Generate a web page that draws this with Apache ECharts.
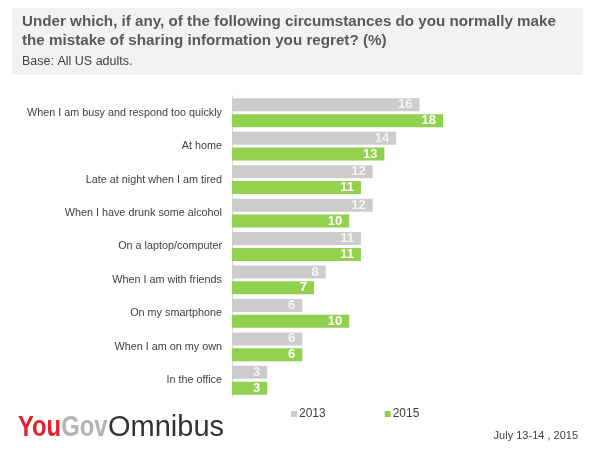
<!DOCTYPE html>
<html>
<head>
<meta charset="utf-8">
<script src="https://cdn.jsdelivr.net/npm/echarts@6/dist/echarts.min.js"></script>
<style>
html, body { margin: 0; padding: 0; background: #fff; }
#main { width: 599px; height: 459px; }
</style>
</head>
<body>
<div id="main"></div>
<script>
var categories = [
  'When I am busy and respond too quickly',
  'At home',
  'Late at night when I am tired',
  'When I have drunk some alcohol',
  'On a laptop/computer',
  'When I am with friends',
  'On my smartphone',
  'When I am on my own',
  'In the office'
];
var values2013 = [16, 14, 12, 12, 11, 8, 6, 6, 3];
var values2015 = [18, 13, 11, 10, 11, 7, 10, 6, 3];
var seriesNames = ['2013', '2015'];

var font = 'Liberation Sans, Arial, sans-serif';

var chart = echarts.init(document.getElementById('main'));

var option = {
  animation: false,
  textStyle: { fontFamily: font },
  title: {
    text: 'Under which, if any, of the following circumstances do you normally make\nthe mistake of sharing information you regret? (%)',
    subtext: 'Base: All US adults.',
    left: 22,
    top: 12,
    padding: 0,
    itemGap: 5,
    textStyle: { fontSize: 15.2, fontWeight: 'bold', color: '#595959', lineHeight: 19, fontFamily: font },
    subtextStyle: { fontSize: 12.5, color: '#404040', fontFamily: font }
  },
  legend: {
    data: seriesNames,
    left: 286,
    top: 403,
    itemWidth: 6,
    itemHeight: 6,
    itemGap: 59,
    icon: 'rect',
    textStyle: { fontSize: 12, color: '#404040', padding: [0, 0, 0, -3] }
  },
  grid: { left: 232, top: 96, width: 211, height: 301, containLabel: false },
  xAxis: {
    type: 'value',
    min: 0,
    max: 18,
    show: false
  },
  yAxis: {
    type: 'category',
    data: categories,
    inverse: true,
    axisLine: { show: true, lineStyle: { color: '#d9d9d9', width: 1 } },
    axisTick: { show: false },
    axisLabel: { color: '#404040', fontSize: 10.8, margin: 10 }
  },
  series: [
    {
      name: seriesNames[0],
      type: 'bar',
      data: values2013,
      barWidth: 13,
      barGap: '22%',
      itemStyle: { color: '#cccccc' },
      label: { show: true, position: 'insideRight', color: '#f5f5f5', fontWeight: 'bold', fontSize: 13, offset: [-2, 0] }
    },
    {
      name: seriesNames[1],
      type: 'bar',
      data: values2015,
      barWidth: 13,
      itemStyle: { color: '#92d050' },
      label: { show: true, position: 'insideRight', color: '#ffffff', fontWeight: 'bold', fontSize: 13, offset: [-2, 0] }
    }
  ],
  graphic: [
    {
      type: 'rect',
      z: -10,
      shape: { x: 12, y: 8, width: 571, height: 67 },
      style: { fill: '#f2f2f2' }
    },
    // logo: condensed bold "YouGov" + regular "Omnibus"
    {
      type: 'text',
      x: 18,
      y: 413,
      scaleX: 0.82,
      style: {
        text: '{a|You}{b|Gov}',
        verticalAlign: 'top',
        rich: {
          a: { fontSize: 29, fontWeight: 'bold', fill: '#e4202e', fontFamily: font },
          b: { fontSize: 29, fontWeight: 'bold', fill: '#b3b3b3', fontFamily: font }
        }
      }
    },
    {
      type: 'text',
      x: 108,
      y: 413,
      style: { text: 'Omnibus', verticalAlign: 'top', fontSize: 29, fill: '#333333', fontFamily: font }
    },
    {
      type: 'text',
      right: 21,
      top: 430,
      style: { text: 'July 13-14 , 2015', fontSize: 11, fill: '#404040', fontFamily: font }
    }
  ]
};

chart.setOption(option);
</script>
</body>
</html>
